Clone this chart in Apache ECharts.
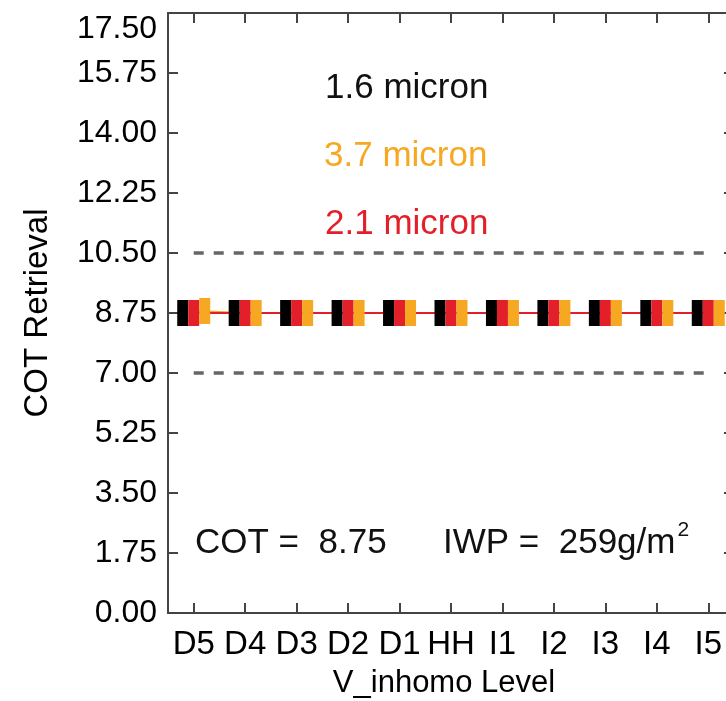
<!DOCTYPE html>
<html>
<head>
<meta charset="utf-8">
<script src="https://cdn.jsdelivr.net/npm/echarts@6/dist/echarts.min.js"></script>
<style>
  html, body { margin: 0; padding: 0; background: #fff; }
  #chart { width: 726px; height: 701px; }
</style>
</head>
<body>
<div id="chart"></div>
<script>
  // V_inhomo levels
  const levels = ['D5', 'D4', 'D3', 'D2', 'D1', 'HH', 'I1', 'I2', 'I3', 'I4', 'I5'];

  // retrieved COT per channel
  const cot16 = [8.75, 8.75, 8.75, 8.75, 8.75, 8.75, 8.75, 8.75, 8.75, 8.75, 8.75];
  const cot21 = [8.75, 8.75, 8.75, 8.75, 8.75, 8.75, 8.75, 8.75, 8.75, 8.75, 8.75];
  const cot37 = [8.81, 8.75, 8.75, 8.75, 8.75, 8.75, 8.75, 8.75, 8.75, 8.75, 8.75];

  // +/-20% reference lines
  const upper20 = [10.5, 10.5, 10.5, 10.5, 10.5, 10.5, 10.5, 10.5, 10.5, 10.5, 10.5];
  const lower20 = [7.0, 7.0, 7.0, 7.0, 7.0, 7.0, 7.0, 7.0, 7.0, 7.0, 7.0];

  const yMin = 0, yMax = 17.5, yStep = 1.75;

  const FONT = '"Liberation Sans", Arial, sans-serif';
  const BLACK = '#000000', RED = '#e3202a', ORANGE = '#f7a823';
  const NOTE_FONT = '35px ' + FONT;
  const AXIS_COLOR = '#444';

  const myChart = echarts.init(document.getElementById('chart'));

  function axisLine() {
    return { show: true, onZero: false, lineStyle: { color: AXIS_COLOR, width: 2 } };
  }
  // ticks pointing into the plot
  function axisTick(isCategory) {
    return {
      show: true, inside: true, length: 10, alignWithLabel: isCategory,
      lineStyle: { color: AXIS_COLOR, width: 2 }
    };
  }

  function lineSeries(data, color, z) {
    return {
      type: 'line', data: data, showSymbol: false, z: z,
      lineStyle: { color: color, width: 2 }
    };
  }
  function markSeries(data, color, dx) {
    return {
      type: 'scatter', data: data, z: 5,
      symbol: 'rect', symbolSize: [11, 26], symbolOffset: [dx, 0],
      itemStyle: { color: color, opacity: 1 }
    };
  }
  function dashSeries(data) {
    return {
      type: 'line', data: data, showSymbol: false, z: 1,
      lineStyle: { color: '#666', width: 3.5, type: [10, 10] }
    };
  }

  // width of the IWP text, so the superscript sits right after it
  const iwpText = 'IWP =  259g/m';
  const ctx = document.createElement('canvas').getContext('2d');
  ctx.font = NOTE_FONT;
  const iwpWidth = ctx.measureText(iwpText).width;

  const option = {
    animation: false,
    textStyle: { fontFamily: FONT },
    grid: { left: 168, right: -8, top: 13, bottom: 88, outerBoundsMode: 'none', containLabel: false },
    xAxis: [
      {
        type: 'category', position: 'bottom', data: levels,
        axisLine: axisLine(),
        axisTick: axisTick(true),
        axisLabel: { interval: 0, fontSize: 33, color: BLACK, margin: 15, fontFamily: FONT },
        name: 'V_inhomo Level', nameLocation: 'middle', nameGap: 55,
        nameTextStyle: { fontSize: 31, color: BLACK, fontFamily: FONT, padding: [0, 14, 0, 0] }
      },
      {
        type: 'category', position: 'top', data: levels,
        axisLine: axisLine(),
        axisTick: axisTick(true),
        axisLabel: { show: false }
      }
    ],
    yAxis: [
      {
        type: 'value', position: 'left', min: yMin, max: yMax, interval: yStep,
        axisLine: axisLine(),
        axisTick: axisTick(false),
        splitLine: { show: false },
        axisLabel: {
          fontSize: 32, color: BLACK, margin: 11, fontFamily: FONT,
          verticalAlignMaxLabel: 'top',
          formatter: v => v.toFixed(2)
        },
        name: 'COT Retrieval', nameLocation: 'middle', nameGap: 114,
        nameTextStyle: { fontSize: 33, color: BLACK, fontFamily: FONT }
      },
      {
        type: 'value', position: 'right', min: yMin, max: yMax, interval: yStep,
        axisLine: axisLine(),
        axisTick: axisTick(false),
        splitLine: { show: false },
        axisLabel: { show: false }
      }
    ],
    series: [
      dashSeries(upper20),
      dashSeries(lower20),
      lineSeries(cot16, BLACK, 2),
      lineSeries(cot37, ORANGE, 3),
      lineSeries(cot21, RED, 4),
      markSeries(cot16, BLACK, -11),
      markSeries(cot21, RED, 0),
      markSeries(cot37, ORANGE, 11)
    ],
    graphic: [
      { type: 'text', x: 325, y: 88, style: { text: '1.6 micron', fill: '#111', font: NOTE_FONT, verticalAlign: 'middle' } },
      { type: 'text', x: 324, y: 156, style: { text: '3.7 micron', fill: ORANGE, font: NOTE_FONT, verticalAlign: 'middle' } },
      { type: 'text', x: 325, y: 224, style: { text: '2.1 micron', fill: RED, font: NOTE_FONT, verticalAlign: 'middle' } },
      { type: 'text', x: 195, y: 543, style: { text: 'COT =  8.75', fill: '#111', font: NOTE_FONT, verticalAlign: 'middle' } },
      { type: 'text', x: 443, y: 543, style: { text: iwpText, fill: '#111', font: NOTE_FONT, verticalAlign: 'middle' } },
      { type: 'text', x: 443 + iwpWidth + 2, y: 530, style: { text: '2', fill: '#111', font: '21px ' + FONT, verticalAlign: 'middle' } }
    ]
  };

  myChart.setOption(option);
</script>
</body>
</html>
